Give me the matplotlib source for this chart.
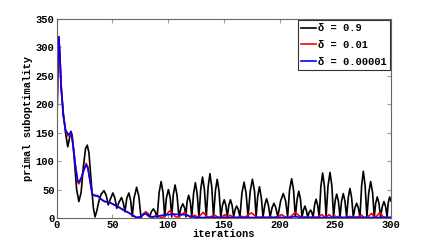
import matplotlib
matplotlib.use("Agg")
import matplotlib.pyplot as plt

plt.rcParams['font.family'] = ['Liberation Mono', 'DejaVu Sans Mono']
plt.rcParams['font.weight'] = 'bold'

labels = ["δ = 0.9", "δ = 0.01", "δ = 0.00001"]
colors = ["black", "red", "blue"]

black_x = [0, 1, 2, 3, 4, 6, 8, 10, 11.5, 12.8, 14, 16, 18, 20, 22, 24, 26, 27.5, 29, 31, 33, 34.5, 36, 38, 40, 42.5,
           44.5, 46.3, 48, 50.5, 52.3, 54, 56, 58.3, 60, 61.3, 63, 64.9, 66.5, 67.9, 69.5, 71.8, 73.8, 75.7, 77.5,
           79.5, 81.5, 83.5, 85, 86.8, 88.5, 90.2, 92, 93.8, 95.5, 97, 98.5, 100.3, 102, 103.3, 104.7, 106.3, 108,
           109.8, 111.6, 113.3, 115, 116, 117, 118.5, 120, 121.3, 122.9, 124.5, 126.1, 127.7, 129.3, 130.9, 132.6,
           134.3, 136, 137.6, 139.2, 140.8, 142.5, 144.1, 145.7, 147.3, 148.9, 150.4, 151.8, 153.2, 154.6, 156,
           157.5, 158.8, 160.2, 161.6, 163, 164.5, 166.3, 168.2, 170, 171.8, 173.7, 175.7, 177.6, 179, 180.4, 182,
           183.6, 185.2, 186.8, 188.4, 190, 191.6, 193.3, 195, 196.7, 198.5, 201, 203.4, 205.5, 207.3, 209, 210.9,
           212.6, 214.2, 215.8, 217.3, 218.8, 220.2, 221.5, 222.8, 224, 225.3, 226.6, 227.9, 229, 230.2, 231.5,
           232.8, 234.2, 235.6, 237.1, 238.7, 240.3, 241.8, 243.5, 245.3, 247, 248.5, 249.9, 251.3, 252.8, 254.3,
           255.7, 257.2, 258.7, 260.2, 261.7, 263.2, 264.7, 266.2, 267.7, 269.2, 270.7, 272.2, 273.7, 275.2, 276.8,
           278.4, 280.1, 281.8, 283.5, 285, 286.3, 287.7, 289.2, 290.7, 292.2, 293.7, 295.2, 296.5, 297.5, 298.8, 300]
black_y = [125, 250, 318, 280, 230, 185, 150, 125, 140, 152, 145, 100, 50, 29, 45, 90, 122, 128, 115, 65, 18, 2, 12,
           30, 42, 48, 40, 23, 32, 44, 35, 17, 28, 36, 25, 11, 35, 44, 30, 3, 35, 54, 38, 1, 6, 9, 5, 2, 11, 16, 11, 1,
           45, 64, 45, 2, 35, 50, 35, 2, 41, 58, 41, 2, 18, 25, 17, 2, 28, 40, 28, 2, 43, 62, 43, 2, 50, 72, 51, 2, 55,
           78, 55, 2, 48, 68, 48, 2, 23, 32, 23, 3, 23, 32, 22, 2, 15, 21, 15, 2, 44, 63, 44, 2, 47, 68, 47, 2, 37, 55,
           37, 2, 23, 34, 23, 2, 18, 26, 18, 2, 30, 43, 30, 2, 49, 69, 49, 2, 33, 47, 33, 2, 14, 21, 14, 2, 10, 14, 10,
           2, 23, 33, 23, 2, 55, 79, 56, 2, 56, 80, 56, 2, 30, 42, 30, 2, 30, 43, 30, 2, 36, 52, 36, 2, 18, 26, 18, 2,
           57, 82, 57, 2, 45, 64, 45, 2, 26, 37, 26, 2, 20, 29, 20, 2, 26, 37, 30]

red_x = [0, 1, 2, 3, 4, 6, 8, 10, 11.5, 13, 15, 17, 19, 20, 22, 24, 26.5, 28, 30, 32, 34, 37, 40, 43, 47, 50, 55, 60,
         65, 70, 72, 75, 78, 80, 82, 84, 86, 88, 90, 92, 95, 98, 101.7, 104, 107, 110, 112, 115, 117, 120, 122, 124,
         126, 128, 131.6, 134, 137, 139, 142, 145, 148, 151, 153, 156, 158, 162, 166, 169, 172, 175, 178, 181, 185,
         188, 192, 195, 199, 202, 205, 208, 211, 214, 217, 220, 223, 226, 230, 233, 235, 238, 241, 244.5, 247, 250,
         253, 256, 260, 263, 266, 270, 273.6, 276, 279, 282.7, 285, 287, 290, 293, 296, 300]
red_y = [125, 260, 318, 285, 235, 180, 155, 144, 146, 151, 125, 90, 63, 60, 68, 82, 96, 90, 65, 42, 39, 38, 33, 29, 28,
         25, 20, 14, 9, 2, 0.5, 2, 8, 11, 8, 3, 1, 3, 4, 2, 1, 5, 13, 8, 2, 2, 6, 10, 6, 1, 3, 5, 2, 3, 10, 4, 1, 3, 5,
         1, 2, 6, 2, 5, 1, 1, 3, 1, 6, 9, 4, 1, 2, 1, 2, 1, 3, 6, 2, 1, 4, 10, 5, 1, 2, 1, 2, 1, 3, 6, 1, 6, 2, 1, 3,
         1, 1, 3, 1, 2, 5, 1, 2, 8, 2, 3, 10, 2, 1, 1]

blue_x = [0, 1, 2, 3, 4, 6, 8, 10, 11.5, 13, 15, 17, 19, 20, 22, 24, 26.5, 28, 30, 32, 34, 37, 40, 43, 47, 50, 55, 60,
          65, 70, 72, 75, 78, 80, 82, 85, 90, 95, 100, 105, 110, 115, 120, 125, 130, 150, 200, 210, 214, 218, 300]
blue_y = [125, 260, 318, 285, 235, 180, 155, 147, 148, 152, 125, 90, 65, 63, 70, 82, 93, 88, 65, 42, 40, 39, 33, 29,
          28, 25, 20, 14, 9, 3, 1, 2, 6, 8, 6, 2, 3, 5, 6, 7, 6, 6, 3, 1, 1, 1, 1, 1, 3, 1, 1]

x_ticks = [0, 50, 100, 150, 200, 250, 300]
y_ticks = [0, 50, 100, 150, 200, 250, 300, 350]

fig = plt.figure(figsize=(4.32, 2.45), dpi=100)
ax = fig.add_axes([0.131, 0.110, 0.774, 0.814])

ax.plot(black_x, black_y, color=colors[0], lw=1.2, label=labels[0])
ax.plot(red_x, red_y, color=colors[1], lw=1.2, label=labels[1])
ax.plot(blue_x, blue_y, color=colors[2], lw=1.2, label=labels[2])

ax.set_xlim(0, 300)
ax.set_ylim(0, 350)
ax.set_xticks(x_ticks)
ax.set_yticks(y_ticks)
ax.tick_params(direction='in', length=3, width=0.8, color='#999999', labelsize=7.5,
               top=True, right=True, pad=1.5)
for lab in ax.get_xticklabels() + ax.get_yticklabels():
    lab.set_fontweight('bold')
for s in ax.spines.values():
    s.set_color('#666666')
    s.set_linewidth(0.8)

ax.set_xlabel("iterations", fontsize=7.5, fontweight='bold', labelpad=-1)
ax.set_ylabel("primal suboptimality", fontsize=7.5, fontweight='bold', labelpad=2)

leg = ax.legend(loc='upper right', fontsize=7.5, handlelength=1.4, handletextpad=0.15,
                borderpad=0.35, labelspacing=0.65, borderaxespad=0.1, fancybox=False,
                framealpha=1)
leg.get_frame().set_edgecolor('#333333')
leg.get_frame().set_linewidth(0.8)

fig.savefig("out.png", dpi=100)
